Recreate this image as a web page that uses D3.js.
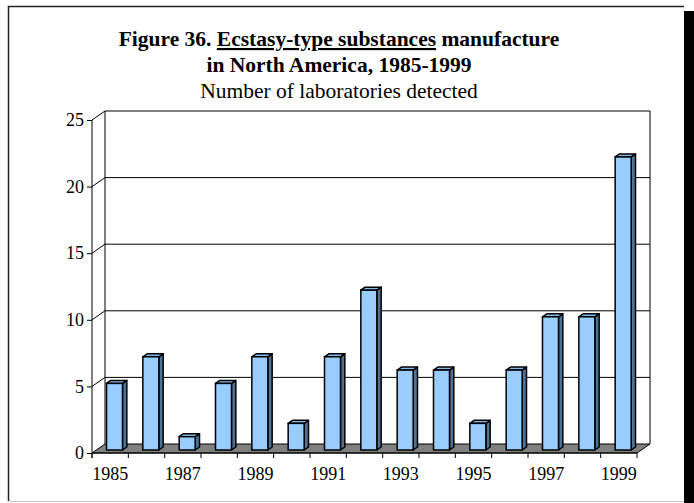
<!DOCTYPE html>
<html><head><meta charset="utf-8">
<script src="https://cdn.jsdelivr.net/npm/d3@7"></script>
<style>html,body{margin:0;padding:0;background:#fff;}svg{display:block;}</style>
</head><body>
<script>
const years = [1985,1986,1987,1988,1989,1990,1991,1992,1993,1994,1995,1996,1997,1998,1999];
const labs = [5,7,1,5,7,2,7,12,6,6,2,6,10,10,22];
const yTicks = [0,5,10,15,20,25];
const xLabelYears = [1985,1987,1989,1991,1993,1995,1997,1999];
const titleLine1 = ["Figure 36. ", "Ecstasy-type substances", " manufacture"];
const titleLine2 = "in North America, 1985-1999";
const subtitle = "Number of laboratories detected";

const W = 694, H = 503;
const svg = d3.select("body").append("svg").attr("width", W).attr("height", H);

// frame & shadow
svg.append("rect").attr("x",684).attr("y",11).attr("width",10).attr("height",H-11).attr("fill","#000");
svg.append("rect").attr("x",8.5).attr("y",6.5).attr("width",675.5).attr("height",494.5)
  .attr("fill","#fff").attr("stroke","none");
svg.append("path").attr("d","M8.5,501 V6.5 H684").attr("fill","none").attr("stroke","#222").attr("stroke-width",1.5);
svg.append("line").attr("x1",8.5).attr("x2",684).attr("y1",501.5).attr("y2",501.5).attr("stroke","#c8c8c8").attr("stroke-width",1);

const font = "'Liberation Serif','Times New Roman',serif";
// titles
const cxT = 339;
const t1 = svg.append("text").attr("x",cxT).attr("y",46).attr("text-anchor","middle")
  .attr("font-family",font).attr("font-weight","bold").attr("font-size",21.5).attr("fill","#000");
titleLine1.forEach((s,i)=>{
  const ts = t1.append("tspan").text(s);
  if(i===1) ts.attr("text-decoration","underline");
});
svg.append("text").attr("x",cxT).attr("y",72).attr("text-anchor","middle")
  .attr("font-family",font).attr("font-weight","bold").attr("font-size",21.5).text(titleLine2);
svg.append("text").attr("x",cxT).attr("y",98).attr("text-anchor","middle")
  .attr("font-family",font).attr("font-size",21.5).text(subtitle);

// scales
const x = d3.scaleBand().domain(years).range([92,637]).padding(0);
const y = d3.scaleLinear().domain([0,25]).range([453,120]);
const DX = 13, DY = -9;

const g = svg.append("g");
// floor
const y0 = y(0);
g.append("path").attr("d",`M92,${y0} L637,${y0} L${637+DX},${y0+DY} L${92+DX},${y0+DY} Z`)
  .attr("fill","#808080").attr("stroke","#000").attr("stroke-width",1);
// walls grid
yTicks.forEach(t=>{
  const yy = y(t);
  if(t>0){
    g.append("path").attr("d",`M92,${yy} L${92+DX},${yy+DY} L${637+DX},${yy+DY}`)
      .attr("fill","none").attr("stroke","#000").attr("stroke-width",1);
  }
});
g.append("line").attr("x1",92+DX).attr("x2",92+DX).attr("y1",y(25)+DY).attr("y2",y0+DY).attr("stroke","#000");
g.append("line").attr("x1",637+DX).attr("x2",637+DX).attr("y1",y(25)+DY).attr("y2",y0+DY).attr("stroke","#000");

// y axis
const yAxis = d3.axisLeft(y).tickValues(yTicks).tickSize(5).tickPadding(3).tickFormat(d3.format("d"));
const ya = svg.append("g").attr("transform","translate(92,0)").call(yAxis);
ya.selectAll("text").attr("font-family",font).attr("font-size",18).attr("fill","#000");
ya.selectAll("line,path").attr("stroke","#000");
ya.select(".domain").attr("d",`M0,${y(25)}V${y0+5}`);

// x axis
const xa = svg.append("g").attr("transform",`translate(0,${y0})`);
xa.append("line").attr("x1",92).attr("x2",637).attr("y1",0).attr("y2",0).attr("stroke","#000");
const boundaries = years.map(d=>x(d)).concat([x(years[years.length-1])+x.bandwidth()]);
xa.selectAll("line.tk").data(boundaries).join("line").attr("class","tk")
  .attr("x1",d=>d).attr("x2",d=>d).attr("y1",0).attr("y2",5).attr("stroke","#000");
xa.selectAll("text").data(xLabelYears).join("text")
  .attr("x",d=>x(d)+x.bandwidth()/2).attr("y",27).attr("text-anchor","middle")
  .attr("font-family",font).attr("font-size",18).text(d=>d);

// bars
const hw = 8, d0 = 1/3, d1 = 2/3;
const ox0 = DX*d0, oy0 = DY*d0, ox1 = DX*d1, oy1 = DY*d1;
const bars = g.selectAll("g.bar").data(years.map((yr,i)=>({yr, v:labs[i]}))).join("g").attr("class","bar");
bars.each(function(d){
  const c = x(d.yr) + x.bandwidth()/2;
  const yv = y(d.v);
  const L = c-hw, R = c+hw;
  const s = d3.select(this);
  s.append("path").attr("d",`M${R+ox0},${yv+oy0} L${R+ox1},${yv+oy1} L${R+ox1},${y0+oy1} L${R+ox0},${y0+oy0} Z`)
    .attr("fill","#4f7196").attr("stroke","#000").attr("stroke-width",1.5).attr("stroke-linejoin","round");
  s.append("path").attr("d",`M${L+ox0},${yv+oy0} L${R+ox0},${yv+oy0} L${R+ox1},${yv+oy1} L${L+ox1},${yv+oy1} Z`)
    .attr("fill","#86b8e8").attr("stroke","#000").attr("stroke-width",1.5).attr("stroke-linejoin","round");
  s.append("rect").attr("x",L+ox0).attr("y",yv+oy0).attr("width",2*hw).attr("height",y0-yv)
    .attr("fill","#99ccff").attr("stroke","#000").attr("stroke-width",1.5);
});
</script>
</body></html>
